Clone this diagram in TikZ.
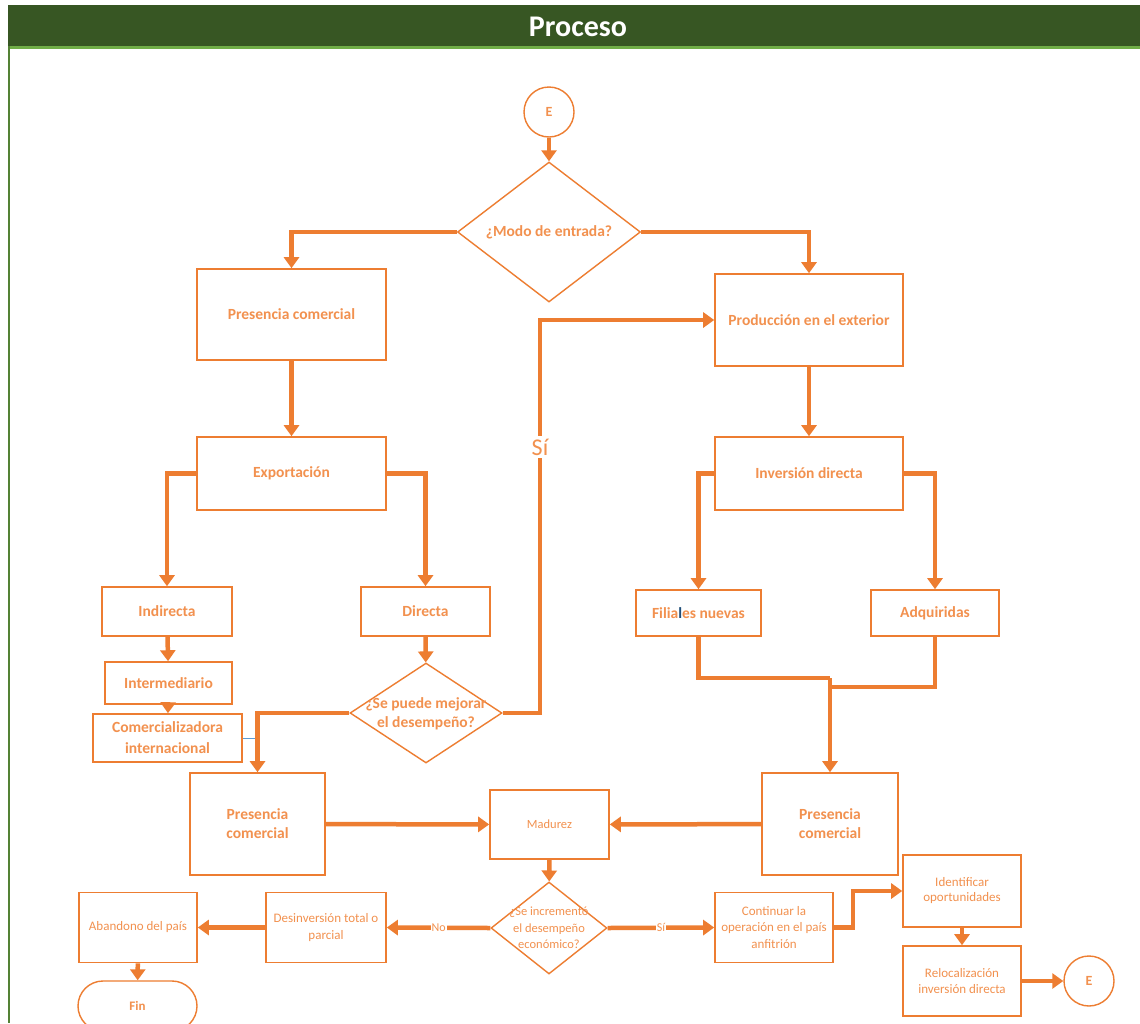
\documentclass[tikz,border=0pt]{standalone}
\usepackage{fontspec}
\setmainfont{Carlito}
\usetikzlibrary{shapes.geometric,arrows.meta,calc}
\definecolor{orng}{HTML}{ED7D31}
\definecolor{txto}{HTML}{F2914F}
\definecolor{hdr}{HTML}{375623}
\definecolor{hdrline}{HTML}{70AD47}
\definecolor{framegreen}{HTML}{548235}
\definecolor{cursorblue}{HTML}{1F4E79}
\definecolor{thinblue}{HTML}{5B9BD5}
\begin{document}
\begin{tikzpicture}[x=1pt,y=-1pt,
  box/.style={draw=orng, line width=1.6pt, fill=white, text=txto, align=center, inner sep=1pt},
  big/.style={font=\fontsize{15.5}{19}\selectfont\bfseries},
  small/.style={font=\fontsize{13}{16.5}\selectfont},
  dia/.style={diamond, draw=orng, line width=1.4pt, fill=white, inner sep=0pt},
  diatext/.style={text=txto, align=center, inner sep=0pt},
  conn/.style={draw=orng, line width=4.5pt, -{Triangle[width=15pt,length=11pt]}},
  link/.style={draw=orng, line width=4.5pt},
  lbl/.style={fill=white, text=txto, inner sep=1pt, font=\fontsize{12}{14}\selectfont},
  term/.style={circle, draw=orng, line width=1.4pt, fill=white, text=txto,
    minimum size=50pt, inner sep=0pt, font=\fontsize{14}{15}\selectfont\bfseries}
]
\useasboundingbox (0,0) rectangle (1140,1023);
\fill[white] (0,0) rectangle (1140,1023);

% header band and frame
\fill[hdr] (8,5) rectangle (1140,46);
\fill[hdrline] (8,46) rectangle (1140,48.5);
\draw[framegreen, line width=2pt] (9,46) -- (9,1023);
\node[text=white, font=\fontsize{30}{32}\selectfont\bfseries] (title) at (578,27) {Proceso};

% entry and first decision
\node[term] (e1) at (549,112) {E};
\node[dia, minimum width=183pt, minimum height=140pt] (d1) at (549,232) {};
\node[diatext, big] (d1t) at (549,232) {¿Modo de entrada?};

% left branch: commercial presence
\node[box, big, minimum width=189pt, minimum height=91pt] (pc1) at (291.5,314.5) {Presencia comercial};
\node[box, big, minimum width=189pt, minimum height=73pt] (exp) at (291.5,473.5) {Exportación};
\node[box, big, minimum width=130pt, minimum height=49pt] (ind) at (167,611.5) {Indirecta};
\node[box, big, minimum width=129pt, minimum height=49pt] (dir) at (425.5,611.5) {Directa};
\node[box, big, minimum width=127pt, minimum height=42pt] (inter) at (168.5,683) {Intermediario};
\node[box, font=\fontsize{15.5}{21}\selectfont\bfseries, minimum width=149pt, minimum height=48pt] (com) at (167.5,738) {Comercializadora\\internacional};
\node[dia, minimum width=152pt, minimum height=100pt] (d2) at (426,713) {};
\node[diatext, big] (d2t) at (426,714) {¿Se puede mejorar\\el desempeño?};

% right branch: production abroad
\node[box, big, minimum width=188pt, minimum height=92pt] (prod) at (809,320) {Producción en el exterior};
\node[box, big, minimum width=188pt, minimum height=73pt] (inv) at (809,473.5) {Inversión directa};
\node[box, big, minimum width=125pt, minimum height=46pt] (fil) at (698.5,613) {Filia{\color{cursorblue}l}es nuevas};
\node[box, big, minimum width=128pt, minimum height=46pt] (adq) at (935,613) {Adquiridas};

% maturity row
\node[box, big, minimum width=135pt, minimum height=102pt] (pc2) at (257.5,824) {Presencia\\comercial};
\node[box, font=\fontsize{12.5}{15}\selectfont, minimum width=119pt, minimum height=69pt] (mad) at (549.5,824.5) {Madurez};
\node[box, big, minimum width=136pt, minimum height=102pt] (pc3) at (830,824) {Presencia\\comercial};

% bottom row
\node[dia, minimum width=116pt, minimum height=92pt] (d3) at (549,928) {};
\node[diatext, font=\fontsize{12.5}{16.5}\selectfont] (d3t) at (549,928) {¿Se incrementó\\el desempeño\\económico?};
\node[box, small, minimum width=120pt, minimum height=70pt] (des) at (326,927.5) {Desinversión total o\\parcial};
\node[box, small, minimum width=118pt, minimum height=70pt] (aba) at (138,927.5) {Abandono del país};
\node[draw=orng, line width=1.4pt, fill=white, text=txto, rounded corners=25pt,
  minimum width=119pt, minimum height=50pt, font=\fontsize{13}{15}\selectfont\bfseries] (fin) at (137.5,1006) {Fin};
\node[box, small, minimum width=118pt, minimum height=70pt] (cont) at (774,927.5) {Continuar la\\operación en el país\\anfitrión};
\node[box, font=\fontsize{13}{15}\selectfont, minimum width=118pt, minimum height=72pt] (ident) at (962,891) {Identificar\\oportunidades};
\node[box, font=\fontsize{13}{16}\selectfont, minimum width=118pt, minimum height=70pt] (reloc) at (962,981) {Relocalización\\inversión directa};
\node[term] (e2) at (1089,981) {E};

% connectors
\coordinate (siturn) at (540,713);
\coordinate (jn) at (830,678);
\coordinate (jn2) at (830,687);
\coordinate (stepx) at (853,927.5);

\draw[conn] (e1) -- (d1);
\draw[conn] (d1.west) -| (pc1.north);
\draw[conn] (d1.east) -| (prod.north);
\draw[conn] (pc1) -- (exp);
\draw[conn] (exp.west) -| (ind.north);
\draw[conn] (exp.east) -| (dir.north);
\draw[conn] (ind) -- (inter);
\draw[conn] (inter) -- (com);
\draw[thinblue, line width=1pt] (com.east) -- (com.east -| pc2.north);
\draw[conn] (dir) -- (d2);
\draw[conn] (d2.west) -| (pc2.north);
\draw[conn] (d2.east) -- (siturn) |- (prod.west);
\node[lbl, font=\fontsize{24}{26}\selectfont, inner sep=3pt] (si1) at (540,447) {Sí};

\draw[conn] (prod) -- (inv);
\draw[conn] (inv.west) -| (fil.north);
\draw[conn] (inv.east) -| (adq.north);
\draw[link] (fil.south) |- (jn);
\draw[link] (adq.south) |- (jn2);
\draw[conn] (jn) -- (pc3.north);

\draw[conn] (pc2) -- (mad);
\draw[conn] (pc3) -- (mad);
\draw[conn] (mad) -- (d3);
\draw[conn] (d3.west) -- node[lbl] (nolbl) {No} (des.east);
\draw[conn] (des) -- (aba);
\draw[conn] (aba) -- (fin);
\draw[conn] (d3.east) -- node[lbl] (silbl) {Sí} (cont.west);
\draw[conn] (cont.east) -- (stepx) |- (ident.west);
\draw[conn] (ident) -- (reloc);
\draw[conn] (reloc) -- (e2);
\end{tikzpicture}
\end{document}
